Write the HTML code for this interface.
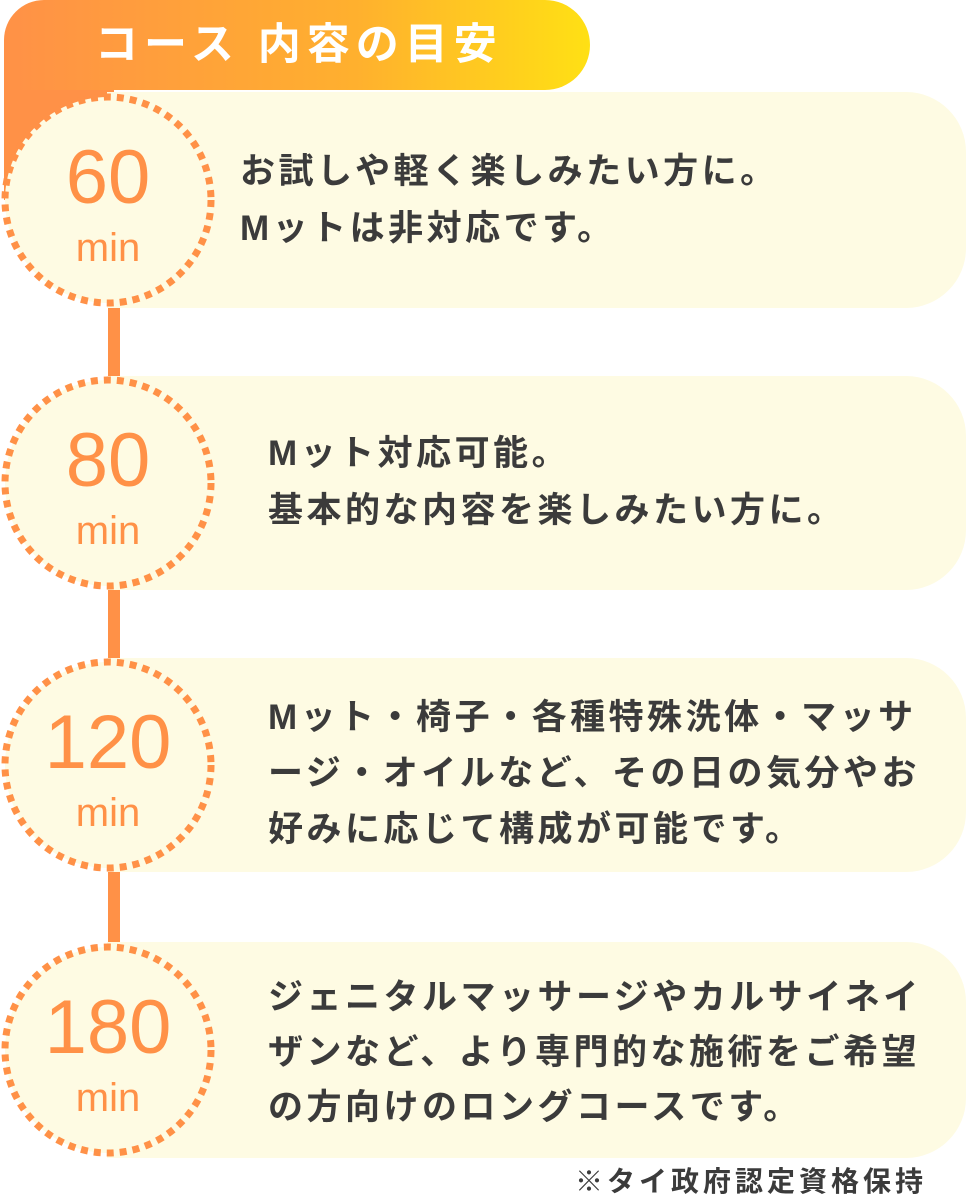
<!DOCTYPE html>
<html><head><meta charset="utf-8"><style>
body{margin:0;width:966px;height:1200px;background:#fff;position:relative;overflow:hidden;font-family:"Liberation Sans","Noto Sans CJK JP",sans-serif}
.a{position:absolute}
.card{position:absolute;left:107px;right:0;background:#fefbe3;border-radius:0 60px 60px 0}
.txt{position:absolute;color:#3b3b3b;font-weight:bold;font-size:35px;line-height:57px;letter-spacing:3.5px;white-space:nowrap}
.num{position:absolute;left:2px;width:212px;text-align:center;color:#ff9147}
.n1{font-size:76px;line-height:76px}
.n2{font-size:40px;line-height:40px}
</style></head><body>
<div class="a" style="left:4px;top:40px;width:110px;height:160px;background:#ff9147"></div>
<div class="a" style="left:4px;top:0;width:586px;height:90px;border-radius:40px 45px 45px 0;background:linear-gradient(90deg,#ff9147,#ffb02e 60%,#ffe014)"></div>
<div class="a" style="left:95px;top:18px;color:#fff;font-weight:bold;font-size:43px;line-height:54px;letter-spacing:6px">コース 内容の目安</div>
<div class="a" style="left:108px;top:300px;width:12px;height:800px;background:#ff9147"></div>
<div class="card" style="top:92px;height:216px"></div>
<div class="card" style="top:376px;height:214px"></div>
<div class="card" style="top:658px;height:214px"></div>
<div class="card" style="top:942px;height:216px"></div>
<svg class="a" style="left:0;top:0" width="966" height="1200">
<g fill="#fefbe3" stroke="#ff9147" stroke-width="7" stroke-dasharray="7 6">
<circle cx="108" cy="200" r="103"/><circle cx="108" cy="483" r="103"/><circle cx="108" cy="765" r="103"/><circle cx="108" cy="1050" r="103"/>
</g></svg>
<div class="num n1" style="top:140px">60</div><div class="num n2" style="top:228px">min</div>
<div class="num n1" style="top:423px">80</div><div class="num n2" style="top:511px">min</div>
<div class="num n1" style="top:705px">120</div><div class="num n2" style="top:793px">min</div>
<div class="num n1" style="top:990px">180</div><div class="num n2" style="top:1078px">min</div>
<div class="txt" style="left:240px;top:143px">お試しや軽く楽しみたい方に。<br>Mットは非対応です。</div>
<div class="txt" style="left:268px;top:425px">Mット対応可能。<br>基本的な内容を楽しみたい方に。</div>
<div class="txt" style="left:268px;top:690px;line-height:56px">Mット・椅子・各種特殊洗体・マッサ<br>ージ・オイルなど、その日の気分やお<br>好みに応じて構成が可能です。</div>
<div class="txt" style="left:268px;top:970px;line-height:55px">ジェニタルマッサージやカルサイネイ<br>ザンなど、より専門的な施術をご希望<br>の方向けのロングコースです。</div>
<div class="a" style="left:575px;top:1164px;color:#3b3b3b;font-weight:bold;font-size:28px;line-height:36px;letter-spacing:4px">※タイ政府認定資格保持</div>
</body></html>
